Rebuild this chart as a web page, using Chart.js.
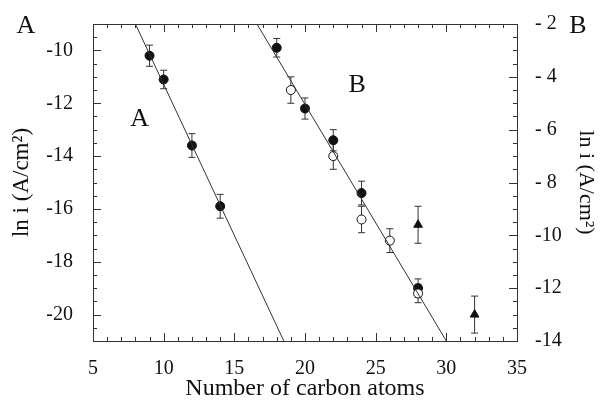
<!DOCTYPE html>
<html>
<head>
<meta charset="utf-8">
<script src="https://cdn.jsdelivr.net/npm/chart.js@4/dist/chart.umd.min.js"></script>
<style>
  body { margin: 0; background: #fff; }
</style>
</head>
<body>
<canvas id="chart" width="601" height="407"></canvas>
<script>
// series A (left axis)
const xA = [9, 10, 12, 14];
const yA = [-10.2, -11.1, -13.6, -15.9];
const errA = [0.4, 0.35, 0.45, 0.45];

// series B (right axis)
const xBFilled = [18, 20, 22, 24, 28];
const yBFilled = [-2.9, -5.2, -6.4, -8.4, -12.0];
const errBFilled = [0.35, 0.4, 0.4, 0.45, 0.35];

const xBOpen = [19, 22, 24, 26, 28];
const yBOpen = [-4.5, -7.0, -9.4, -10.2, -12.2];
const errBOpen = [0.5, 0.5, 0.5, 0.45, 0.35];

const xBTri = [28, 32];
const yBTri = [-9.6, -13.0];
const errBTri = [0.7, 0.7];

// fitted lines
const lineAX = [8, 18.5];
const lineAY = [-9, -21];
const lineBX = [16.6, 30];
const lineBY = [-2, -14];

const leftTicks = [-20, -18, -16, -14, -12, -10];

const pts = (xs, ys) => xs.map((x, i) => ({x: x, y: ys[i]}));
const serif = '"Liberation Serif", "DejaVu Serif", serif';
const ink = '#111';

const errorBars = {
    id: 'errorBars',
    beforeDatasetsDraw(chart) {
        const ctx = chart.ctx;
        chart.data.datasets.forEach((ds, i) => {
            if (!ds.errors) return;
            const meta = chart.getDatasetMeta(i);
            const yScale = chart.scales[ds.yAxisID];
            ctx.save();
            ctx.strokeStyle = '#333';
            ctx.lineWidth = 1;
            ds.data.forEach((p, j) => {
                const px = meta.data[j].x;
                const top = yScale.getPixelForValue(p.y + ds.errors[j]);
                const bot = yScale.getPixelForValue(p.y - ds.errors[j]);
                ctx.beginPath();
                ctx.moveTo(px, top); ctx.lineTo(px, bot);
                ctx.moveTo(px - 3.5, top); ctx.lineTo(px + 3.5, top);
                ctx.moveTo(px - 3.5, bot); ctx.lineTo(px + 3.5, bot);
                ctx.stroke();
            });
            ctx.restore();
        });
    }
};

const frameAndTicks = {
    id: 'frameAndTicks',
    afterDraw(chart) {
        const ctx = chart.ctx;
        const a = chart.chartArea;
        const sx = chart.scales.x, sy = chart.scales.y, sy2 = chart.scales.y2;
        ctx.save();
        ctx.strokeStyle = '#333';
        ctx.lineWidth = 1;
        ctx.strokeRect(a.left + 0.5, a.top + 0.5, a.right - a.left, a.bottom - a.top);
        ctx.beginPath();
        for (let v = 5; v <= 35; v += 1) {
            const px = Math.round(sx.getPixelForValue(v)) + 0.5;
            const len = v % 5 === 0 ? 8 : 4;
            ctx.moveTo(px, a.bottom); ctx.lineTo(px, a.bottom - len);
            ctx.moveTo(px, a.top); ctx.lineTo(px, a.top + len);
        }
        for (let v = -21; v <= -9; v += 0.5) {
            const py = Math.round(sy.getPixelForValue(v)) + 0.5;
            const len = v % 2 === 0 ? 8 : 4;
            ctx.moveTo(a.left, py); ctx.lineTo(a.left + len, py);
        }
        for (let v = -14; v <= -2; v += 0.5) {
            const py = Math.round(sy2.getPixelForValue(v)) + 0.5;
            const len = v % 2 === 0 ? 8 : 4;
            ctx.moveTo(a.right, py); ctx.lineTo(a.right - len, py);
        }
        ctx.stroke();

        // panel letters
        ctx.fillStyle = ink;
        ctx.font = '26px ' + serif;
        ctx.textAlign = 'center';
        ctx.textBaseline = 'middle';
        ctx.fillText('A', 26, 26);
        ctx.fillText('B', 578, 26);
        ctx.fillText('A', sx.getPixelForValue(8.3), sy.getPixelForValue(-12.6));
        ctx.fillText('B', sx.getPixelForValue(23.7), sy2.getPixelForValue(-4.3));
        ctx.restore();
    }
};

new Chart(document.getElementById('chart'), {
    type: 'scatter',
    data: {
        datasets: [
            {
                type: 'line', data: pts(lineAX, lineAY), yAxisID: 'y',
                borderColor: '#333', borderWidth: 1, pointRadius: 0, fill: false
            },
            {
                type: 'line', data: pts(lineBX, lineBY), yAxisID: 'y2',
                borderColor: '#333', borderWidth: 1, pointRadius: 0, fill: false
            },
            {
                data: pts(xA, yA), yAxisID: 'y', errors: errA,
                pointStyle: 'circle', pointRadius: 4.5,
                backgroundColor: ink, borderColor: ink, borderWidth: 1
            },
            {
                data: pts(xBOpen, yBOpen), yAxisID: 'y2', errors: errBOpen,
                pointStyle: 'circle', pointRadius: 4.5,
                backgroundColor: '#fff', borderColor: ink, borderWidth: 1
            },
            {
                data: pts(xBFilled, yBFilled), yAxisID: 'y2', errors: errBFilled,
                pointStyle: 'circle', pointRadius: 4.5,
                backgroundColor: ink, borderColor: ink, borderWidth: 1
            },
            {
                data: pts(xBTri, yBTri), yAxisID: 'y2', errors: errBTri,
                pointStyle: 'triangle', pointRadius: 5,
                backgroundColor: ink, borderColor: ink, borderWidth: 1
            }
        ]
    },
    options: {
        responsive: false,
        animation: false,
        devicePixelRatio: 1,
        layout: { padding: { top: 20, left: 0, right: 0, bottom: 0 } },
        plugins: { legend: { display: false }, tooltip: { enabled: false } },
        scales: {
            x: {
                type: 'linear', min: 5, max: 35,
                grid: { display: false }, border: { display: false },
                ticks: { stepSize: 5, color: ink, padding: 8, font: { family: serif, size: 20 } },
                title: { display: true, text: 'Number of carbon atoms', color: ink,
                         font: { family: serif, size: 24 }, padding: { top: 0, bottom: 4 } },
                afterFit: s => { s.height = 66; }
            },
            y: {
                type: 'linear', position: 'left', min: -21, max: -9,
                grid: { display: false }, border: { display: false },
                afterBuildTicks: s => { s.ticks = leftTicks.map(v => ({value: v})); },
                ticks: { color: ink, padding: 12, font: { family: serif, size: 20 } },
                title: { display: true, text: 'ln i (A/cm\u00b2)', color: ink,
                         font: { family: serif, size: 23 }, padding: { top: 8, bottom: 0 } },
                afterFit: s => { s.width = 93; }
            },
            y2: {
                type: 'linear', position: 'right', min: -14, max: -2,
                grid: { display: false }, border: { display: false },
                ticks: { stepSize: 2, color: ink, padding: 10, font: { family: serif, size: 20 },
                         callback: v => (Math.abs(v) < 10 ? '- ' + Math.abs(v) : String(v)) },
                title: { display: true, text: 'ln i (A/cm\u00b2)', color: ink,
                         font: { family: serif, size: 22 }, padding: { top: 2, bottom: 0 } },
                afterFit: s => { s.width = 84; }
            }
        }
    },
    plugins: [errorBars, frameAndTicks]
});
</script>
</body>
</html>
